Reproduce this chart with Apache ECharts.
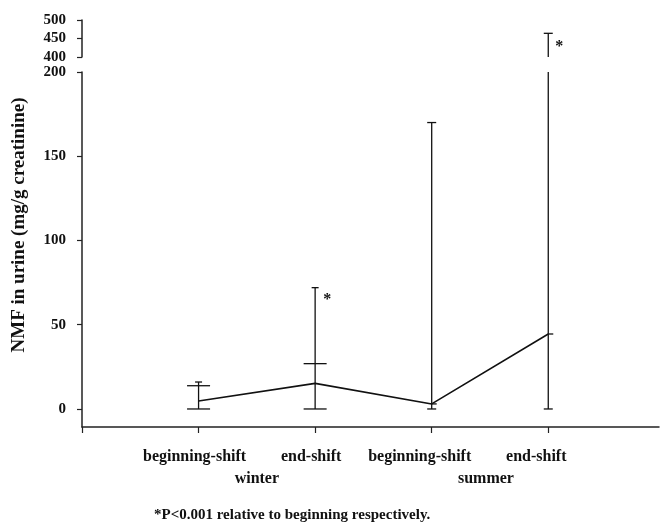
<!DOCTYPE html>
<html>
<head>
<meta charset="utf-8">
<script src="https://cdn.jsdelivr.net/npm/echarts@6/dist/echarts.min.js"></script>
<style>html,body{margin:0;padding:0;background:#fff}#c{width:660px;height:524px}</style>
</head>
<body>
<div id="c"></div>
<script>
const categories = ['beginning-shift', 'end-shift', 'beginning-shift', 'end-shift'];
const categoryPos = [1, 2, 3, 4];
const seasons = ['winter', 'summer'];
const seasonPos = [1.5, 3.5];
const median = [4.7, 15.2, 3.0, 44.5];
const rangeMin = [0, 0, 0, 0];
const rangeMax = [16, 72, 170, 464];
const boxLow = [0, 0, null, null];
const boxHigh = [13.8, 26.9, null, null];
const significant = [false, true, false, true];
const yTicksLower = [0, 50, 100, 150, 200];
const yTicksUpper = [400, 450, 500];
const yTitle = 'NMF in urine (mg/g creatinine)';
const footnote = '*P<0.001 relative to beginning respectively.';

const SERIF = '"Liberation Serif", "DejaVu Serif", serif';
const INK = '#111';
const LOWER_MAX = 200, UPPER_MIN = 400;

function lowerItem(params, api) {
  const i = params.dataIndex;
  const x = api.value(0);
  const top = Math.min(rangeMax[i], LOWER_MAX);
  const p0 = api.coord([x, rangeMin[i]]);
  const p1 = api.coord([x, top]);
  const st = { stroke: INK, lineWidth: 1.3 };
  const ch = [{ type: 'line', shape: { x1: p0[0], y1: p0[1], x2: p1[0], y2: p1[1] }, style: st }];
  const cap = (v, hw) => {
    const p = api.coord([x, v]);
    ch.push({ type: 'line', shape: { x1: p[0] - hw, y1: p[1], x2: p[0] + hw, y2: p[1] }, style: st });
  };
  if (boxLow[i] != null) cap(boxLow[i], 11.5); else cap(rangeMin[i], 4.5);
  if (boxHigh[i] != null) cap(boxHigh[i], 11.5);
  else { const pm = api.coord([x, median[i]]); ch.push({ type: 'line', shape: { x1: pm[0], y1: pm[1], x2: pm[0] + 5, y2: pm[1] }, style: st }); }
  if (rangeMax[i] <= LOWER_MAX) {
    cap(rangeMax[i], boxHigh[i] != null ? 3.5 : 4.5);
    if (significant[i]) ch.push({ type: 'text', style: { text: '*', x: p1[0] + 12, y: p1[1] + 12, font: 'bold 16px ' + SERIF, fill: INK, align: 'center', verticalAlign: 'middle' } });
  }
  return { type: 'group', children: ch };
}
function upperItem(params, api) {
  const i = params.dataIndex;
  if (rangeMax[i] < UPPER_MIN) return null;
  const x = api.value(0);
  const p0 = api.coord([x, UPPER_MIN]);
  const p1 = api.coord([x, rangeMax[i]]);
  const st = { stroke: INK, lineWidth: 1.3 };
  const ch = [
    { type: 'line', shape: { x1: p0[0], y1: p0[1], x2: p1[0], y2: p1[1] }, style: st },
    { type: 'line', shape: { x1: p1[0] - 4.5, y1: p1[1], x2: p1[0] + 4.5, y2: p1[1] }, style: st }
  ];
  if (significant[i]) ch.push({ type: 'text', style: { text: '*', x: p1[0] + 11, y: p1[1] + 14, font: 'bold 16px ' + SERIF, fill: INK, align: 'center', verticalAlign: 'middle' } });
  return { type: 'group', children: ch };
}

const pts = categoryPos.map((x, i) => [x, median[i]]);
const axisLineStyle = { color: '#222', width: 1.5 };
const tickLabelStyle = { fontFamily: SERIF, fontWeight: 'bold', fontSize: 15, color: INK };

const chart = echarts.init(document.getElementById('c'), null, { renderer: 'canvas' });
chart.setOption({
  animation: false,
  backgroundColor: '#fff',
  grid: [
    { left: 82, top: 72, width: 577, height: 355 },
    { left: 82, top: 20, width: 577, height: 37 }
  ],
  xAxis: [
    {
      type: 'value', gridIndex: 0, min: 0, max: 4.95, position: 'bottom',
      axisLine: { show: true, onZero: false, lineStyle: axisLineStyle },
      axisTick: { show: true, customValues: [0].concat(categoryPos), length: 6, lineStyle: { color: '#222', width: 1.2 } },
      axisLabel: {
        customValues: categoryPos, margin: 22,
        formatter: v => { const i = categoryPos.indexOf(Math.round(v)); return (i >= 2 ? '{s|' : '{w|') + categories[i] + '}'; },
        rich: {
          w: { fontFamily: SERIF, fontWeight: 'bold', fontSize: 16, color: INK, padding: [0, 8, 0, 0] },
          s: { fontFamily: SERIF, fontWeight: 'bold', fontSize: 16, color: INK, padding: [0, 24, 0, 0] }
        }
      },
      splitLine: { show: false }
    },
    {
      type: 'value', gridIndex: 0, min: 0, max: 4.95, position: 'bottom', offset: 0,
      axisLine: { show: false }, axisTick: { show: false },
      axisLabel: {
        customValues: seasonPos, margin: 44,
        formatter: v => { const i = seasonPos.indexOf(v); return i >= 1 ? '{s|' + seasons[i] + '}' : seasons[i]; },
        fontFamily: SERIF, fontWeight: 'bold', fontSize: 16, color: INK,
        rich: { s: { fontFamily: SERIF, fontWeight: 'bold', fontSize: 16, color: INK, padding: [0, 8, 0, 0] } }
      },
      splitLine: { show: false }
    },
    { type: 'value', gridIndex: 1, min: 0, max: 4.95, show: false }
  ],
  yAxis: [
    {
      type: 'value', gridIndex: 0, min: -10.7, max: 200,
      axisLine: { show: true, onZero: false, lineStyle: axisLineStyle },
      axisTick: { show: true, customValues: yTicksLower, length: 5, lineStyle: { color: '#222', width: 1.2 } },
      axisLabel: Object.assign({ customValues: yTicksLower, margin: 16 }, tickLabelStyle),
      splitLine: { show: false }
    },
    {
      type: 'value', gridIndex: 1, min: 400, max: 500,
      axisLine: { show: true, onZero: false, lineStyle: axisLineStyle },
      axisTick: { show: true, customValues: yTicksUpper, length: 5, lineStyle: { color: '#222', width: 1.2 } },
      axisLabel: Object.assign({ customValues: yTicksUpper, margin: 16 }, tickLabelStyle),
      splitLine: { show: false }
    }
  ],
  series: [
    { type: 'custom', xAxisIndex: 0, yAxisIndex: 0, renderItem: lowerItem, data: pts, encode: { x: 0, y: 1 }, z: 3 },
    { type: 'custom', xAxisIndex: 2, yAxisIndex: 1, renderItem: upperItem, data: pts, encode: { x: 0, y: 1 }, z: 3 },
    { type: 'line', xAxisIndex: 0, yAxisIndex: 0, data: pts, symbol: 'none', lineStyle: { color: INK, width: 1.6 }, z: 4 }
  ],
  graphic: [
    { type: 'text', x: 19, y: 225, rotation: Math.PI / 2, style: { text: yTitle, font: 'bold 19px ' + SERIF, fill: INK, align: 'center', verticalAlign: 'middle' } },
    { type: 'text', x: 154, y: 515, style: { text: footnote, font: 'bold 15px ' + SERIF, fill: INK, align: 'left', verticalAlign: 'middle' } }
  ]
});
</script>
</body>
</html>
